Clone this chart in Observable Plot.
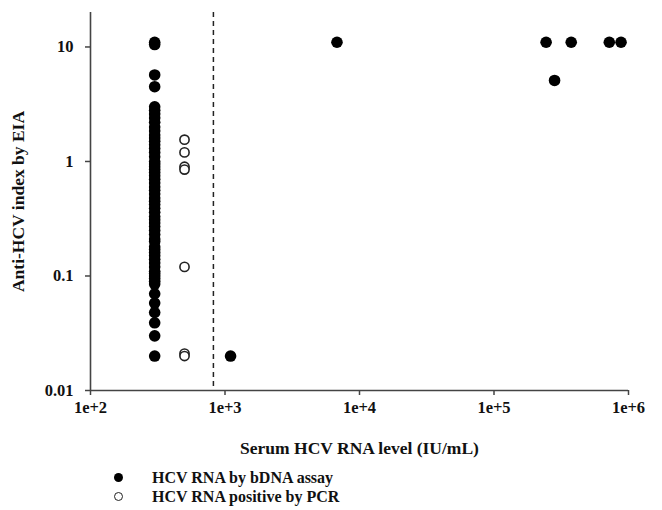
<!DOCTYPE html>
<html>
<head>
<meta charset="utf-8">
<script src="https://cdn.jsdelivr.net/npm/d3@7"></script>
<script src="https://cdn.jsdelivr.net/npm/@observablehq/plot@0.6"></script>
<style>
  body { margin: 0; background: white; }
  #chart svg { display: block; }
  .legend { font-family: "Liberation Serif", serif; font-weight: bold; font-size: 16px; color: #111; margin-top: 6px; }
  .legend .row { position: relative; height: 19px; line-height: 19px; padding-left: 152px; }
  .legend .mk { position: absolute; left: 114px; top: 5px; width: 9px; height: 9px; border-radius: 50%; box-sizing: border-box; }
  .legend .filled { background: #000; }
  .legend .open { border: 1.5px solid #222; background: #fff; }
</style>
</head>
<body>
<div id="chart"></div>
<div class="legend">
  <div class="row"><span class="mk filled"></span>HCV RNA by bDNA assay</div>
  <div class="row"><span class="mk open"></span>HCV RNA positive by PCR</div>
</div>
<script>
// ---- data ----
const xTicks = [1e2, 1e3, 1e4, 1e5, 1e6];
const xTickLabels = ["1e+2", "1e+3", "1e+4", "1e+5", "1e+6"];
const yTicks = [0.01, 0.1, 1, 10];
const yTickLabels = ["0.01", "0.1", "1", "10"];

const cutoffRNA = 820; // dashed reference line (IU/mL)

// bDNA: samples below quantification plotted at 300 IU/mL
const bdnaLowRNA = 300;
const bdnaLowIndex = [11, 10.5, 5.7, 4.5,
  3.0, 2.8, 2.6, 2.4, 2.2, 2.0, 1.85, 1.7, 1.6, 1.5, 1.4, 1.3, 1.2, 1.1, 1.0,
  0.95, 0.9, 0.85, 0.8, 0.75, 0.7, 0.65, 0.6, 0.56, 0.52, 0.48, 0.45, 0.42,
  0.39, 0.36, 0.33, 0.31, 0.29, 0.27, 0.25, 0.23, 0.21, 0.2, 0.18, 0.17, 0.16,
  0.15, 0.14, 0.13, 0.12, 0.11, 0.105, 0.1, 0.095, 0.09, 0.085,
  0.07, 0.058, 0.048, 0.039, 0.03, 0.02];

// bDNA: quantified samples
const bdnaRNA   = [1100, 6800, 244000, 282000, 375000, 720000, 880000];
const bdnaIndex = [0.02, 11, 11, 5.1, 11, 11, 11];

// PCR positive samples plotted at 500 IU/mL
const pcrRNA = 500;
const pcrIndex = [1.55, 1.2, 0.9, 0.85, 0.12, 0.021, 0.02];

// ---- tables ----
const bdna = [
  ...bdnaLowIndex.map(v => ({rna: bdnaLowRNA, index: v})),
  ...bdnaRNA.map((r, i) => ({rna: r, index: bdnaIndex[i]}))
];
const pcr = pcrIndex.map(v => ({rna: pcrRNA, index: v}));

const font = "Liberation Serif, Times New Roman, serif";

const chart = Plot.plot({
  width: 662,
  height: 462,
  marginLeft: 90,
  marginRight: 34,
  marginTop: 12,
  marginBottom: 72,
  style: {fontFamily: font, fontWeight: "bold", fontSize: "17px", color: "#111", background: "white"},
  x: {type: "log", domain: [1e2, 1e6]},
  y: {type: "log", domain: [0.01, 20]},
  marks: [
    Plot.ruleX([cutoffRNA], {stroke: "#222", strokeWidth: 1.5, strokeDasharray: "5,4"}),
    Plot.ruleX([xTicks[0]], {stroke: "#444", strokeWidth: 1.6}),
    Plot.ruleY([yTicks[0]], {stroke: "#444", strokeWidth: 1.6}),
    Plot.axisX({
      ticks: xTicks,
      tickFormat: d => xTickLabels[xTicks.indexOf(d)],
      tickSize: 5, tickPadding: 6, stroke: "#444", strokeWidth: 1.5,
      fontSize: 16.5, fontWeight: "bold", fill: "#111",
      label: null
    }),
    Plot.axisX({
      ticks: [],
      label: "Serum HCV RNA level (IU/mL)", labelAnchor: "center", labelArrow: "none", labelOffset: 63,
      fontSize: 17.5, fontWeight: "bold", fill: "#111"
    }),
    Plot.axisY({
      ticks: yTicks,
      tickFormat: d => yTickLabels[yTicks.indexOf(d)],
      tickSize: 5, tickPadding: 12, stroke: "#444", strokeWidth: 1.5,
      fontSize: 16.5, fontWeight: "bold", fill: "#111",
      label: null
    }),
    Plot.axisY({
      ticks: [],
      label: "Anti-HCV index by EIA", labelAnchor: "center", labelArrow: "none", labelOffset: 79,
      fontSize: 17.5, fontWeight: "bold", fill: "#111"
    }),
    Plot.dot(pcr, {x: "rna", y: "index", r: 4.6, stroke: "#222", strokeWidth: 1.6, fill: "white"}),
    Plot.dot(bdna, {x: "rna", y: "index", r: 5.8, fill: "#000", stroke: "none"})
  ]
});
document.getElementById("chart").appendChild(chart);
</script>
</body>
</html>
